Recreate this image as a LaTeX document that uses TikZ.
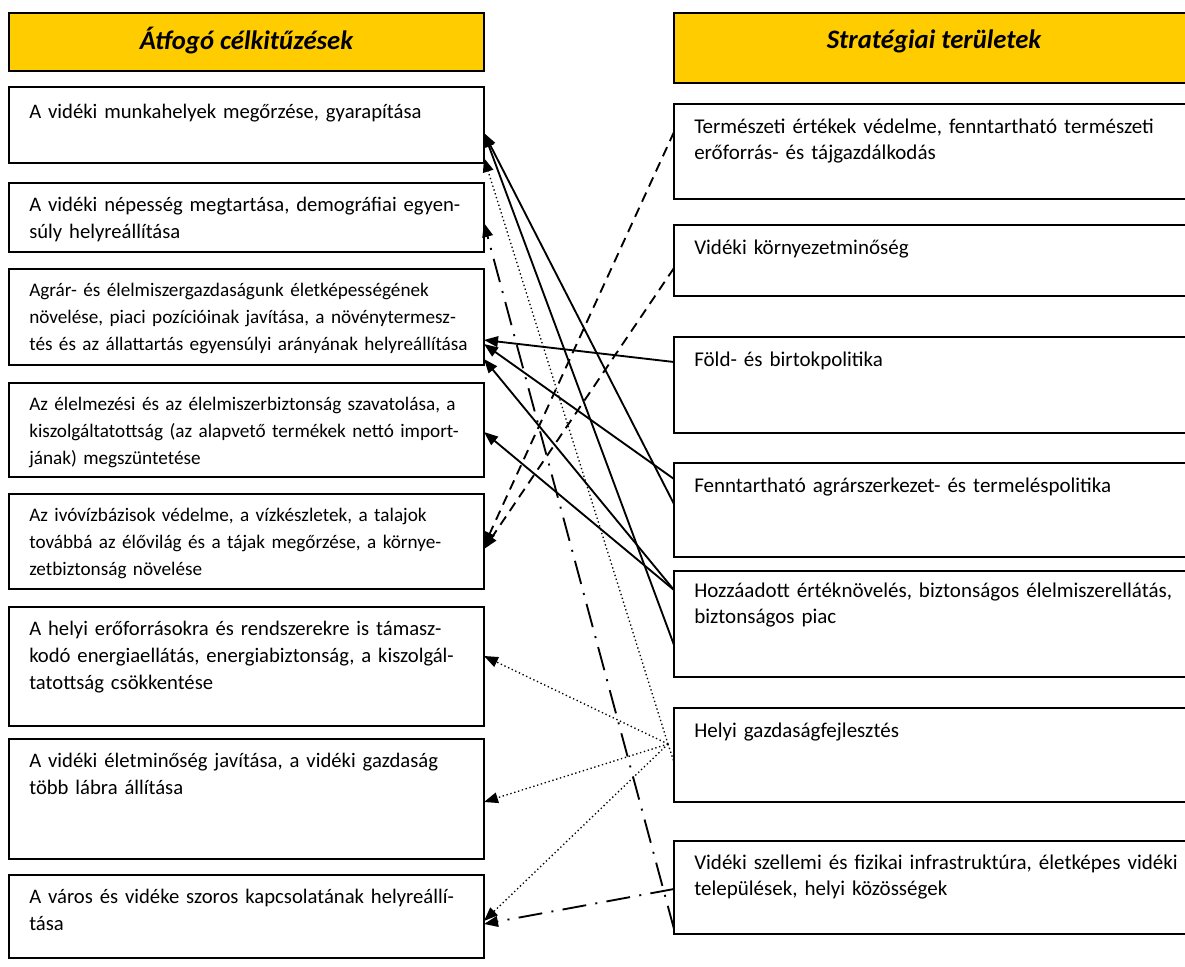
\documentclass[tikz,border=0pt]{standalone}
\usepackage{fontspec}
\setmainfont{Carlito}
\usetikzlibrary{arrows.meta,calc}
\definecolor{hdr}{HTML}{FFCC00}
\begin{document}
\begin{tikzpicture}[x=0.75pt,y=-0.75pt,
  box/.style={draw=black, line width=1.5pt, fill=white, rectangle, inner sep=0pt, outer sep=0pt, anchor=north west},
  hbox/.style={box, fill=hdr},
  ltext/.style={anchor=base west, inner sep=0pt, align=left, text width=380pt, font=\fontsize{15.5pt}{20.25pt}\selectfont},
  stext/.style={ltext, font=\fontsize{14.4pt}{20.25pt}\selectfont},
  rtext/.style={ltext, font=\fontsize{15.75pt}{19.9pt}\selectfont},
  htext/.style={inner sep=0pt, font=\fontsize{20pt}{24pt}\selectfont\bfseries\itshape},
  conn/.style={line width=1.4pt, -{Triangle[length=10.5pt,width=8pt]}},
  solidc/.style={conn},
  dashc/.style={conn, dash pattern=on 7.5pt off 5pt},
  dotc/.style={conn, line width=1pt, dash pattern=on 1pt off 2pt},
  dashdotc/.style={conn, dash pattern=on 18pt off 7pt on 1.5pt off 7pt},
]
\useasboundingbox[fill=white] (0,0) rectangle (1185,967);

% left column
\node[hbox, minimum width=356.25pt, minimum height=43.5pt] (L0) at (9,13) {};
\node[box, minimum width=356.25pt, minimum height=57pt] (L1) at (9,87) {};
\node[box, minimum width=356.25pt, minimum height=51.75pt] (L2) at (9,183) {};
\node[box, minimum width=356.25pt, minimum height=72pt] (L3) at (9,269) {};
\node[box, minimum width=356.25pt, minimum height=70.5pt] (L4) at (9,383) {};
\node[box, minimum width=356.25pt, minimum height=71.25pt] (L5) at (9,494) {};
\node[box, minimum width=356.25pt, minimum height=89.25pt] (L6) at (9,607) {};
\node[box, minimum width=356.25pt, minimum height=90pt] (L7) at (9,739) {};
\node[box, minimum width=356.25pt, minimum height=62.25pt] (L8) at (9,875) {};

% right column
\node[hbox, minimum width=390pt, minimum height=52.5pt] (R0) at (674,13) {};
\node[box, minimum width=390pt, minimum height=71.25pt] (R1) at (674,104) {};
\node[box, minimum width=390pt, minimum height=53.25pt] (R2) at (674,225) {};
\node[box, minimum width=390pt, minimum height=72pt] (R3) at (674,337) {};
\node[box, minimum width=390pt, minimum height=70.5pt] (R4) at (674,463) {};
\node[box, minimum width=390pt, minimum height=79.5pt] (R5) at (674,571) {};
\node[box, minimum width=390pt, minimum height=70.5pt] (R6) at (674,708) {};
\node[box, minimum width=390pt, minimum height=69.75pt] (R7) at (674,841) {};

% texts
\node[htext] (tL0) at ($(L0.north)+(0,28)$) {Átfogó célkitűzések};
\node[htext] (tR0) at ($(R0.north)+(0,28)$) {Stratégiai területek};

\node[ltext] (tL1) at ($(L1.north west)+(20,31)$) {A vidéki munkahelyek megőrzése, gyarapítása};
\node[ltext] (tL2) at ($(L2.north west)+(20,28)$) {A vidéki népesség megtartása, demográfiai egyen-\\súly helyreállítása};
\node[stext] (tL3) at ($(L3.north west)+(20,27)$) {Agrár- és élelmiszergazdaságunk életképességének\\növelése, piaci pozícióinak javítása, a növénytermesz-\\tés és az állattartás egyensúlyi arányának helyreállítása};
\node[stext] (tL4) at ($(L4.north west)+(20,27)$) {Az élelmezési és az élelmiszerbiztonság szavatolása, a\\kiszolgáltatottság (az alapvető termékek nettó import-\\jának) megszüntetése};
\node[stext] (tL5) at ($(L5.north west)+(20,27)$) {Az ivóvízbázisok védelme, a vízkészletek, a talajok\\továbbá az élővilág és a tájak megőrzése, a környe-\\zetbiztonság növelése};
\node[ltext] (tL6) at ($(L6.north west)+(20,28)$) {A helyi erőforrásokra és rendszerekre is támasz-\\kodó energiaellátás, energiabiztonság, a kiszolgál-\\tatottság csökkentése};
\node[ltext] (tL7) at ($(L7.north west)+(20,28)$) {A vidéki életminőség javítása, a vidéki gazdaság\\több lábra állítása};
\node[ltext] (tL8) at ($(L8.north west)+(20,28)$) {A város és vidéke szoros kapcsolatának helyreállí-\\tása};

\node[rtext] (tR1) at ($(R1.north west)+(20,29)$) {Természeti értékek védelme, fenntartható természeti\\erőforrás- és tájgazdálkodás};
\node[rtext] (tR2) at ($(R2.north west)+(20,29)$) {Vidéki környezetminőség};
\node[rtext] (tR3) at ($(R3.north west)+(20,29)$) {Föld- és birtokpolitika};
\node[rtext] (tR4) at ($(R4.north west)+(20,29)$) {Fenntartható agrárszerkezet- és termeléspolitika};
\node[rtext] (tR5) at ($(R5.north west)+(20,26)$) {Hozzáadott értéknövelés, biztonságos élelmiszerellátás,\\biztonságos piac};
\node[rtext] (tR6) at ($(R6.north west)+(20,29)$) {Helyi gazdaságfejlesztés};
\node[rtext] (tR7) at ($(R7.north west)+(20,28)$) {Vidéki szellemi és fizikai infrastruktúra, életképes vidéki\\települések, helyi közösségek};

% connectors
\draw[solidc] ($(R3.north west)+(0,25)$) -- ($(L3.north east)+(0,71)$);
\draw[solidc] ($(R4.north west)+(0,16)$) -- ($(L3.north east)+(0,75)$);
\draw[solidc] ($(R5.north west)+(0,19)$) -- ($(L3.north east)+(0,90)$);
\draw[solidc] ($(R5.north west)+(0,19)$) -- ($(L4.north east)+(0,49)$);
\draw[solidc] ($(R4.north west)+(0,41)$) -- ($(L1.north east)+(0,46)$);
\draw[solidc] ($(R5.north west)+(0,74)$) -- ($(L1.north east)+(0,46)$);

\draw[dashc] ($(R1.north west)+(0,28)$) -- ($(L5.north east)+(0,52)$);
\draw[dashc] ($(R2.north west)+(0,43)$) -- ($(L5.north east)+(0,55)$);

\coordinate (hub) at ($(R6.north west)+(-6,36)$);
\draw[dotc,-] (hub) -- ($(R6.north west)+(0,54)$);
\draw[dotc] (hub) -- ($(L1.north east)+(0,71)$);
\draw[dotc] (hub) -- ($(L6.north east)+(0,49)$);
\draw[dotc] (hub) -- ($(L7.north east)+(0,63)$);
\draw[dotc] (hub) -- ($(L8.north east)+(0,46)$);

\draw[dashdotc] ($(R7.north west)+(0,88)$) -- ($(L2.north east)+(0,40)$);
\draw[dashdotc] ($(R7.north west)+(0,48)$) -- ($(L8.north east)+(0,49)$);
\end{tikzpicture}
\end{document}
